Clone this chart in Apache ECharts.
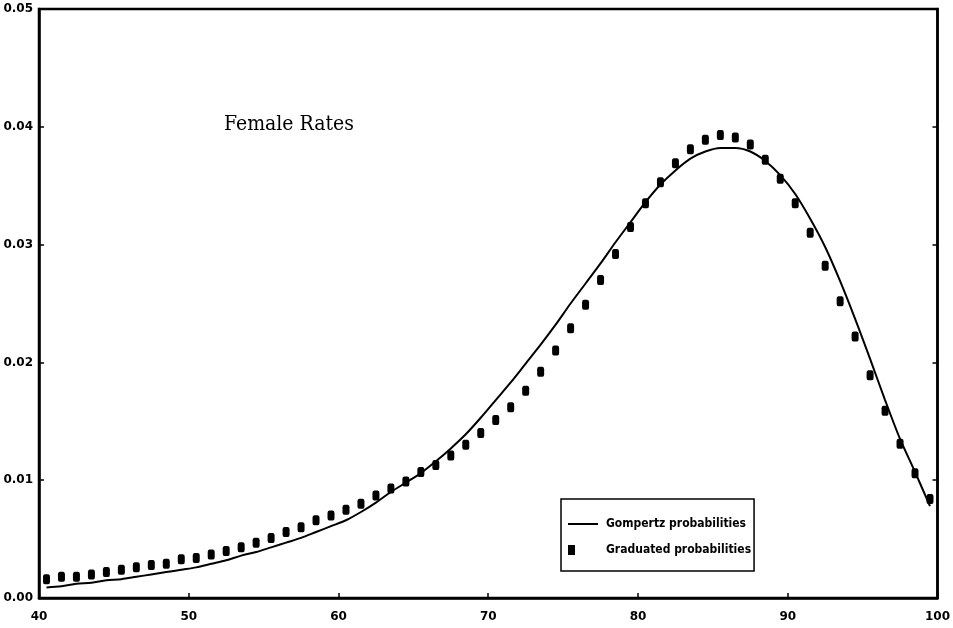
<!DOCTYPE html>
<html>
<head>
<meta charset="utf-8">
<script src="https://cdn.jsdelivr.net/npm/echarts@6/dist/echarts.min.js"></script>
<style>
  html, body { margin: 0; padding: 0; background: #fff; }
  #main { width: 953px; height: 628px; }
</style>
</head>
<body>
<div id="main"></div>
<script>
// ages at which both series are plotted
const ages = [
  40.5, 41.5, 42.5, 43.5, 44.5, 45.5, 46.5, 47.5, 48.5, 49.5,
  50.5, 51.5, 52.5, 53.5, 54.5, 55.5, 56.5, 57.5, 58.5, 59.5,
  60.5, 61.5, 62.5, 63.5, 64.5, 65.5, 66.5, 67.5, 68.5, 69.5,
  70.5, 71.5, 72.5, 73.5, 74.5, 75.5, 76.5, 77.5, 78.5, 79.5,
  80.5, 81.5, 82.5, 83.5, 84.5, 85.5, 86.5, 87.5, 88.5, 89.5,
  90.5, 91.5, 92.5, 93.5, 94.5, 95.5, 96.5, 97.5, 98.5, 99.5
];

// Gompertz probabilities (solid line)
const gompertz = [
  0.0009, 0.0010, 0.0012, 0.0013, 0.0015, 0.0016, 0.0018, 0.0020, 0.0022, 0.0024,
  0.0026, 0.0029, 0.0032, 0.0036, 0.0039, 0.0043, 0.0047, 0.0051, 0.0056, 0.0061,
  0.0066, 0.0073, 0.0081, 0.0090, 0.0098, 0.0106, 0.0116, 0.0127, 0.0139, 0.0153,
  0.0168, 0.0183, 0.0199, 0.0215, 0.0232, 0.0250, 0.0267, 0.0284, 0.0302, 0.0319,
  0.0336, 0.0351, 0.0363, 0.0373, 0.0379, 0.0382, 0.0382, 0.0379, 0.0371, 0.0359,
  0.0343, 0.0322, 0.0298, 0.0269, 0.0237, 0.0203, 0.0168, 0.0135, 0.0107, 0.0078
];

// Graduated probabilities (square markers)
const graduated = [
  0.0016, 0.0018, 0.0018, 0.0020, 0.0022, 0.0024, 0.0026, 0.0028, 0.0029, 0.0033,
  0.0034, 0.0037, 0.0040, 0.0043, 0.0047, 0.0051, 0.0056, 0.0060, 0.0066, 0.0070,
  0.0075, 0.0080, 0.0087, 0.0093, 0.0099, 0.0107, 0.0113, 0.0121, 0.0130, 0.0140,
  0.0151, 0.0162, 0.0176, 0.0192, 0.0210, 0.0229, 0.0249, 0.0270, 0.0292, 0.0315,
  0.0335, 0.0353, 0.0369, 0.0381, 0.0389, 0.0393, 0.0391, 0.0385, 0.0372, 0.0356,
  0.0335, 0.0310, 0.0282, 0.0252, 0.0222, 0.0189, 0.0159, 0.0131, 0.0106, 0.0084
];

const xTicks = [40, 50, 60, 70, 80, 90, 100];
const yTicks = [0.00, 0.01, 0.02, 0.03, 0.04, 0.05];

const labelFont = {
  color: '#000',
  fontFamily: 'DejaVu Sans',
  fontWeight: 'bold',
  fontSize: 12
};

const myChart = echarts.init(document.getElementById('main'));

const option = {
  backgroundColor: '#fff',
  animation: false,
  title: {
    text: 'Female Rates',
    left: 219,
    top: 109,
    textStyle: {
      fontFamily: 'DejaVu Serif Condensed',
      fontWeight: 'normal',
      fontSize: 21,
      color: '#000'
    }
  },
  grid: {
    left: 39, right: 15, top: 9, bottom: 30,
    show: true,
    borderColor: '#000',
    borderWidth: 2.5
  },
  legend: {
    orient: 'vertical',
    left: 561,
    top: 499,
    padding: [18, 3, 15, 7],
    itemGap: 13,
    itemWidth: 30,
    itemHeight: 14,
    borderColor: '#000',
    borderWidth: 1.5,
    textStyle: {
      color: '#000',
      fontFamily: 'DejaVu Sans Condensed',
      fontWeight: 'bold',
      fontSize: 12,
      padding: [0, 0, 0, 3]
    },
    data: [
      { name: 'Gompertz probabilities', icon: 'path://M0,0L0,0Z M0,6L30,6L30,8L0,8Z M30,14L30,14Z' },
      { name: 'Graduated probabilities', icon: 'path://M0,0L7,0L7,10L0,10Z M30,0L30,0Z' }
    ]
  },
  xAxis: {
    type: 'value',
    min: xTicks[0],
    max: xTicks[xTicks.length - 1],
    interval: 10,
    axisLine: { lineStyle: { color: '#000', width: 2.5 } },
    axisTick: { inside: true, length: 5, lineStyle: { color: '#000', width: 1.5 } },
    axisLabel: Object.assign({}, labelFont, { margin: 13 }),
    splitLine: { show: false }
  },
  yAxis: [
    {
      type: 'value',
      min: yTicks[0],
      max: yTicks[yTicks.length - 1],
      interval: 0.01,
      axisLine: { show: true, lineStyle: { color: '#000', width: 2.5 } },
      axisTick: { show: true, inside: true, length: 5, lineStyle: { color: '#000', width: 1.5 } },
      axisLabel: Object.assign({}, labelFont, {
        margin: 6,
        formatter: v => v.toFixed(2)
      }),
      splitLine: { show: false }
    },
    {
      type: 'value',
      position: 'right',
      min: yTicks[0],
      max: yTicks[yTicks.length - 1],
      interval: 0.01,
      axisLine: { show: true, lineStyle: { color: '#000', width: 2.5 } },
      axisTick: { show: true, inside: true, length: 5, lineStyle: { color: '#000', width: 1.5 } },
      axisLabel: { show: false },
      splitLine: { show: false }
    }
  ],
  series: [
    {
      name: 'Gompertz probabilities',
      type: 'line',
      data: ages.map((a, i) => [a, gompertz[i]]),
      smooth: 0.3,
      symbol: 'none',
      lineStyle: { color: '#000', width: 2 },
      itemStyle: { color: '#000' },
      z: 3
    },
    {
      name: 'Graduated probabilities',
      type: 'scatter',
      data: ages.map((a, i) => [a, graduated[i]]),
      symbol: 'roundRect',
      symbolSize: [7, 10],
      itemStyle: { color: '#000', opacity: 1 },
      z: 4
    }
  ]
};

myChart.setOption(option);
</script>
</body>
</html>
